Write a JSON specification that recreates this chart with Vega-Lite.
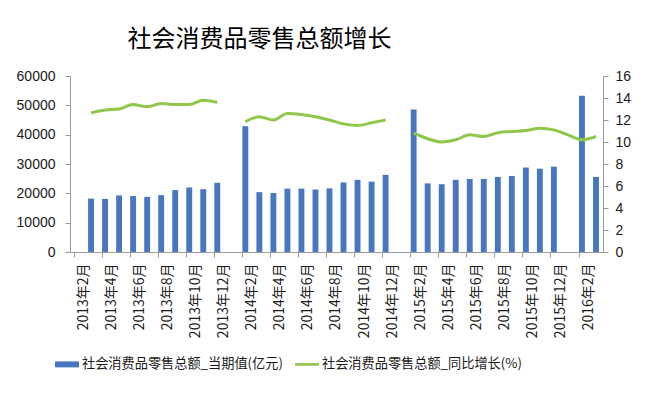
{
  "$schema": "https://vega.github.io/schema/vega-lite/v6.json",
  "width": 533,
  "height": 176,
  "autosize": "none",
  "padding": {"left": 70, "top": 76, "right": 48, "bottom": 151},
  "background": "white",
  "title": {
    "text": "社会消费品零售总额增长",
    "font": "Noto Sans CJK SC",
    "fontSize": 24,
    "fontWeight": "normal",
    "color": "#000000",
    "anchor": "middle",
    "frame": "group",
    "dx": -77,
    "offset": 17
  },
  "data": {
    "values": [
      {"month": "2013年2月", "value": null, "growth": null},
      {"month": "2013年3月", "value": 18200, "growth": 12.65},
      {"month": "2013年4月", "value": 18100, "growth": 12.9},
      {"month": "2013年5月", "value": 19300, "growth": 13.0},
      {"month": "2013年6月", "value": 19100, "growth": 13.4},
      {"month": "2013年7月", "value": 18800, "growth": 13.2},
      {"month": "2013年8月", "value": 19400, "growth": 13.5},
      {"month": "2013年9月", "value": 21100, "growth": 13.4},
      {"month": "2013年10月", "value": 22000, "growth": 13.4},
      {"month": "2013年11月", "value": 21400, "growth": 13.8},
      {"month": "2013年12月", "value": 23600, "growth": 13.6},
      {"month": "2014年1月", "value": null, "growth": null},
      {"month": "2014年2月", "value": 42900, "growth": 11.85},
      {"month": "2014年3月", "value": 20400, "growth": 12.3},
      {"month": "2014年4月", "value": 20100, "growth": 12.0},
      {"month": "2014年5月", "value": 21600, "growth": 12.6},
      {"month": "2014年6月", "value": 21600, "growth": 12.5},
      {"month": "2014年7月", "value": 21300, "growth": 12.3},
      {"month": "2014年8月", "value": 21700, "growth": 12.0},
      {"month": "2014年9月", "value": 23700, "growth": 11.65},
      {"month": "2014年10月", "value": 24600, "growth": 11.5},
      {"month": "2014年11月", "value": 24000, "growth": 11.75},
      {"month": "2014年12月", "value": 26300, "growth": 12.0},
      {"month": "2015年1月", "value": null, "growth": null},
      {"month": "2015年2月", "value": 48600, "growth": 10.8},
      {"month": "2015年3月", "value": 23400, "growth": 10.3},
      {"month": "2015年4月", "value": 23100, "growth": 10.0},
      {"month": "2015年5月", "value": 24600, "growth": 10.2},
      {"month": "2015年6月", "value": 24900, "growth": 10.65},
      {"month": "2015年7月", "value": 24900, "growth": 10.5},
      {"month": "2015年8月", "value": 25600, "growth": 10.85},
      {"month": "2015年9月", "value": 25900, "growth": 10.95},
      {"month": "2015年10月", "value": 28800, "growth": 11.05},
      {"month": "2015年11月", "value": 28400, "growth": 11.25},
      {"month": "2015年12月", "value": 29100, "growth": 11.1},
      {"month": "2016年1月", "value": null, "growth": 10.65},
      {"month": "2016年2月", "value": 53300, "growth": 10.2},
      {"month": "2016年3月", "value": 25600, "growth": 10.5}
    ]
  },
  "encoding": {
    "x": {
      "field": "month",
      "type": "ordinal",
      "scale": {
        "domain": ["2013年2月","2013年3月","2013年4月","2013年5月","2013年6月","2013年7月","2013年8月","2013年9月","2013年10月","2013年11月","2013年12月","2014年1月","2014年2月","2014年3月","2014年4月","2014年5月","2014年6月","2014年7月","2014年8月","2014年9月","2014年10月","2014年11月","2014年12月","2015年1月","2015年2月","2015年3月","2015年4月","2015年5月","2015年6月","2015年7月","2015年8月","2015年9月","2015年10月","2015年11月","2015年12月","2016年1月","2016年2月","2016年3月"],
        "paddingInner": 0.58,
        "paddingOuter": 0.29
      },
      "axis": {
        "title": null,
        "values": ["2013年2月","2013年4月","2013年6月","2013年8月","2013年10月","2013年12月","2014年2月","2014年4月","2014年6月","2014年8月","2014年10月","2014年12月","2015年2月","2015年4月","2015年6月","2015年8月","2015年10月","2015年12月","2016年2月"],
        "bandPosition": 0,
        "labelOffset": 7,
        "labelAngle": -90,
        "labelFont": "Noto Sans CJK SC",
        "labelFontSize": 14,
        "labelColor": "#1a1a1a",
        "labelPadding": 6,
        "tickSize": 5,
        "tickColor": "#999999",
        "domainColor": "#999999",
        "labelOverlap": false,
        "labelBound": false
      }
    }
  },
  "layer": [
    {
      "mark": {"type": "bar"},
      "encoding": {
        "y": {
          "field": "value",
          "type": "quantitative",
          "scale": {"domain": [0, 60000], "nice": false},
          "axis": {
            "orient": "left",
            "title": null,
            "values": [0, 10000, 20000, 30000, 40000, 50000, 60000],
            "format": "d",
            "grid": false,
            "labelFont": "Liberation Sans",
            "labelFontSize": 14,
            "labelColor": "#1a1a1a",
            "labelPadding": 10,
            "tickSize": 5,
            "tickColor": "#999999",
            "domainColor": "#999999"
          }
        },
        "color": {
          "datum": "社会消费品零售总额_当期值(亿元)",
          "type": "nominal",
          "scale": {
            "domain": ["社会消费品零售总额_当期值(亿元)", "社会消费品零售总额_同比增长(%)"],
            "range": ["#4877c0", "#8fc74a"]
          },
          "legend": {
            "orient": "none",
            "legendX": -15,
            "legendY": 276,
            "direction": "horizontal",
            "title": null,
            "symbolType": "M-1,-0.25H1V0.25H-1Z",
            "symbolSize": 576,
            "symbolStrokeWidth": 0,
            "labelFont": "Noto Sans CJK SC",
            "labelFontSize": 13.2,
            "labelColor": "#1a1a1a",
            "labelOffset": 3,
            "columnPadding": 12,
            "labelLimit": 400,
            "encode": {
              "symbols": {
                "update": {
                  "fill": {"scale": "color", "field": "value"},
                  "strokeWidth": {"value": 0},
                  "shape": {"signal": "datum.value === '社会消费品零售总额_当期值(亿元)' ? 'M-1,-0.25H1V0.25H-1Z' : 'M-1,-0.11H1V0.11H-1Z'"}
                }
              }
            }
          }
        }
      }
    },
    {
      "mark": {"type": "line", "strokeWidth": 3, "interpolate": "monotone", "invalid": "break-paths-show-domains"},
      "encoding": {
        "y": {
          "field": "growth",
          "type": "quantitative",
          "scale": {"domain": [0, 16], "nice": false},
          "axis": {
            "orient": "right",
            "title": null,
            "values": [0, 2, 4, 6, 8, 10, 12, 14, 16],
            "grid": false,
            "labelFont": "Liberation Sans",
            "labelFontSize": 14,
            "labelColor": "#1a1a1a",
            "labelPadding": 7,
            "tickSize": 5,
            "tickColor": "#999999",
            "domainColor": "#999999"
          }
        },
        "color": {
          "datum": "社会消费品零售总额_同比增长(%)",
          "type": "nominal"
        }
      }
    }
  ],
  "resolve": {"scale": {"y": "independent"}},
  "config": {
    "view": {"stroke": null}
  }
}
